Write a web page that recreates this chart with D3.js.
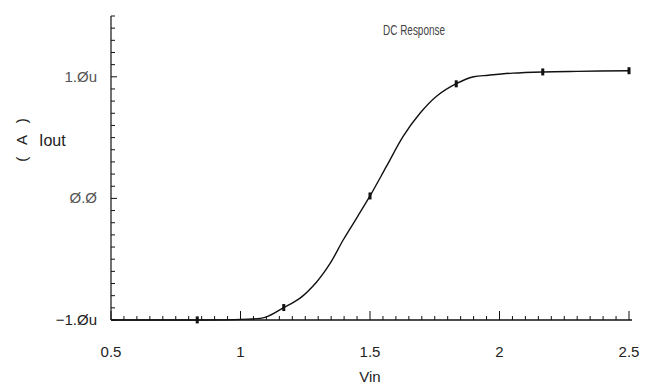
<!DOCTYPE html>
<html>
<head>
<meta charset="utf-8">
<script src="https://cdn.jsdelivr.net/npm/d3@7"></script>
<style>
  body { margin: 0; background: #fff; }
  text { font-family: "Liberation Sans", Arial, sans-serif; }
</style>
</head>
<body>
<div class="chart"></div>
<script>
const vin = [0.5, 0.8, 1.0, 1.095, 1.165, 1.23, 1.294, 1.346, 1.397, 1.449, 1.5, 1.564, 1.628, 1.693, 1.757, 1.835, 1.9, 1.957, 2.05, 2.167, 2.3, 2.5];
const iout = [-1.0, -1.0, -0.995, -0.978, -0.90, -0.82, -0.687, -0.535, -0.34, -0.16, 0.02, 0.265, 0.51, 0.70, 0.84, 0.945, 1.0, 1.013, 1.03, 1.04, 1.045, 1.05];
const markerX = [0.833, 1.167, 1.5, 1.833, 2.167, 2.5];
const xTicks = [0.5, 1, 1.5, 2, 2.5];
const yTicks = [-1, 0, 1];
const yTickLabels = ["\u22121.\u00D8u", "\u00D8.\u00D8", "1.\u00D8u"];

const outerW = 661, outerH = 388;
const margin = { left: 111, right: 32, top: 16, bottom: 68 };

const svg = d3.select('.chart').append('svg')
  .attr('width', outerW)
  .attr('height', outerH);

const x = d3.scaleLinear().domain([0.5, 2.5]).range([margin.left, outerW - margin.right]);
const y = d3.scaleLinear().domain([-1, 1.5]).range([outerH - margin.bottom, margin.top]);

const data = vin.map((v, i) => ({ v, i: iout[i] }));
const curveAt = v => {
  const k = d3.bisectLeft(vin, v);
  if (k <= 0) return iout[0];
  if (k >= vin.length) return iout[iout.length - 1];
  const t = (v - vin[k - 1]) / (vin[k] - vin[k - 1]);
  return iout[k - 1] + t * (iout[k] - iout[k - 1]);
};

// axes: ticks point into the plot
const xMinor = d3.range(0.5, 2.5001, 0.05);
const yMinor = d3.range(-1, 1.5001, 0.1);

const axes = svg.append('g').attr('stroke', '#111').attr('fill', 'none');
axes.append('line')
  .attr('x1', x(0.5)).attr('x2', x(2.5) + 3)
  .attr('y1', y(-1)).attr('y2', y(-1))
  .attr('stroke-width', 1.5);
axes.append('line')
  .attr('x1', x(0.5)).attr('x2', x(0.5))
  .attr('y1', y(-1)).attr('y2', y(1.5))
  .attr('stroke-width', 1.2);

axes.selectAll('.xt').data(xMinor).enter().append('line')
  .attr('x1', d => x(d)).attr('x2', d => x(d))
  .attr('y1', y(-1))
  .attr('y2', d => y(-1) - (Math.abs(d * 2 - Math.round(d * 2)) < 1e-6 ? 9 : 4))
  .attr('stroke-width', 1);

axes.selectAll('.yt').data(yMinor).enter().append('line')
  .attr('y1', d => y(d)).attr('y2', d => y(d))
  .attr('x1', x(0.5))
  .attr('x2', d => x(0.5) + (Math.abs(d - Math.round(d)) < 1e-6 ? 6 : 4))
  .attr('stroke-width', 1);

// tick labels
svg.append('g').selectAll('text').data(xTicks).enter().append('text')
  .attr('x', d => x(d)).attr('y', y(-1) + 37)
  .attr('text-anchor', 'middle')
  .attr('font-size', 15)
  .attr('fill', '#222')
  .text(d => d);

svg.append('g').selectAll('text').data(yTicks).enter().append('text')
  .attr('x', x(0.5) - 14).attr('y', d => y(d) + 5)
  .attr('text-anchor', 'end')
  .attr('font-size', 15)
  .attr('fill', d => d === -1 ? '#222' : '#555')
  .text((d, i) => yTickLabels[i]);

// axis titles
svg.append('text')
  .attr('x', x(1.5)).attr('y', 382)
  .attr('text-anchor', 'middle')
  .attr('font-size', 15)
  .attr('fill', '#222')
  .text('Vin');

svg.append('text')
  .attr('transform', `translate(27, 140) rotate(-90)`)
  .attr('text-anchor', 'middle')
  .attr('font-size', 15)
  .attr('fill', '#222')
  .attr('xml:space', 'preserve')
  .text('(   A   )');

svg.append('text')
  .attr('x', 39).attr('y', 146)
  .attr('font-size', 16)
  .attr('fill', '#222')
  .text('Iout');

svg.append('text')
  .attr('x', 383).attr('y', 35)
  .attr('font-size', 15)
  .attr('fill', '#444')
  .attr('textLength', 62)
  .attr('lengthAdjust', 'spacingAndGlyphs')
  .text('DC Response');

// curve
const line = d3.line()
  .x(d => x(d.v))
  .y(d => y(d.i))
  .curve(d3.curveCatmullRom);

svg.append('path')
  .datum(data)
  .attr('d', line)
  .attr('fill', 'none')
  .attr('stroke', '#111')
  .attr('stroke-width', 1.4);

svg.append('g').selectAll('rect').data(markerX).enter().append('rect')
  .attr('x', d => x(d) - 1.5)
  .attr('y', d => y(curveAt(d)) - 3.5)
  .attr('width', 3).attr('height', 7)
  .attr('fill', '#111');
</script>
</body>
</html>
